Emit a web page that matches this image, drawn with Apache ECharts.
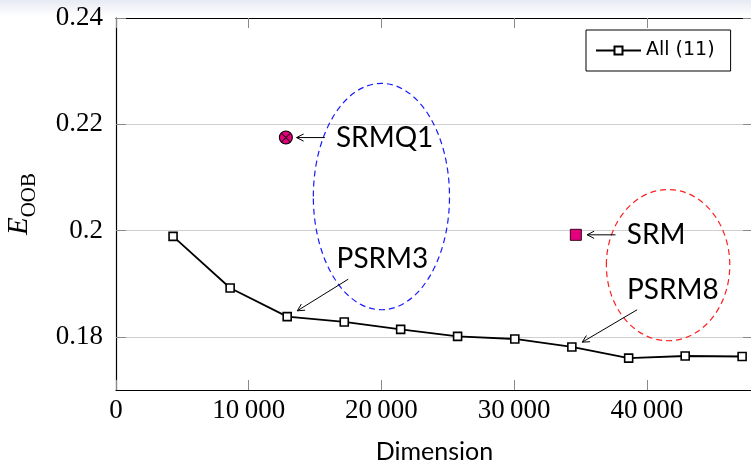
<!DOCTYPE html>
<html><head><meta charset="utf-8">
<script src="https://cdn.jsdelivr.net/npm/echarts@6/dist/echarts.min.js"></script>
<style>html,body{margin:0;padding:0;background:#fff}#c{width:751px;height:460px}</style>
</head><body><div id="c"></div>
<script>
// ---- data ----
const dims = [4300, 8600, 12900, 17200, 21450, 25740, 30050, 34350, 38630, 42890, 47180];
const errAll = [0.1989, 0.1892, 0.1838, 0.1828, 0.1814, 0.1801, 0.1796, 0.1781, 0.1760, 0.1764, 0.1763];
const srmq1Point = [12800, 0.2175];
const srmPoint = [34650, 0.1992];
const xTickValues = [0, 10000, 20000, 30000, 40000];
const yTickValues = [0.18, 0.20, 0.22, 0.24];
const annotationLabels = ['SRMQ1', 'SRM', 'PSRM3', 'PSRM8'];
const labelAnchors = [[16570, 0.2175], [38490, 0.1991], [16620, 0.1946], [38510, 0.1889]];
const arrowFrom = [[15740, 0.2175], [37640, 0.1992], [17500, 0.19085], [39270, 0.1851]];
const arrowTo = [[13610, 0.2175], [35500, 0.1992], [13660, 0.1849], [35130, 0.1790]];
const ellipseCenters = [[20000, 0.2064], [41600, 0.1935]];
const ellipseRadii = [[5130, 0.0213], [4650, 0.01423]];

// ---- chart ----
const SERIF = '"Liberation Serif", "DejaVu Serif", serif';
const SANS = 'Lato, "Open Sans", sans-serif';
const ellipseStroke = ['#1a1aff', '#ff2020'];
const fmtX = v => { const s = String(Math.round(v)); return s.length > 4 ? s.slice(0, s.length - 3) + '\u2009' + s.slice(-3) : s; };
const fmtY = v => String(+(+v).toFixed(2));

const chart = echarts.init(document.getElementById('c'), null, { renderer: 'canvas' });
chart.setOption({
  animation: false,
  backgroundColor: '#fff',
  graphic: [{
    type: 'rect', z: -10, silent: true,
    shape: { x: 0, y: 0, width: 751, height: 16 },
    style: { fill: new echarts.graphic.LinearGradient(0, 0, 0, 1, [
      { offset: 0, color: '#e8eaf4' }, { offset: 1, color: '#ffffff' }]) }
  }],
  grid: { left: 116, top: 18, width: 637, height: 372, containLabel: false, outerBoundsMode: 'none' },
  legend: {
    data: ['All (11)'], left: 586, top: 30,
    padding: [11, 16, 11, 9], borderColor: '#000', borderWidth: 1, borderRadius: 0,
    itemWidth: 45, itemHeight: 10, itemGap: 7,
    textStyle: { fontFamily: '"DejaVu Sans", sans-serif', fontSize: 19, color: '#000' }
  },
  xAxis: [{
    type: 'value', min: 0, max: 48000, position: 'bottom',
    axisLine: { show: true, onZero: false, lineStyle: { color: '#000', width: 1.2 } },
    axisTick: { show: true, inside: true, length: 10, customValues: xTickValues, lineStyle: { color: '#8a8a8a', width: 1 } },
    axisLabel: { show: true, customValues: xTickValues, formatter: fmtX, margin: 7,
      fontFamily: SERIF, fontSize: 27, color: '#000' },
    splitLine: { show: false },
    name: 'Dimension', nameLocation: 'middle', nameGap: 49,
    nameTextStyle: { fontFamily: SANS, fontSize: 25, color: '#000' }
  }, {
    type: 'value', min: 0, max: 48000, position: 'top',
    axisLine: { show: true, onZero: false, lineStyle: { color: '#000', width: 1.2 } },
    axisTick: { show: true, inside: true, length: 10, customValues: xTickValues, lineStyle: { color: '#8a8a8a', width: 1 } },
    axisLabel: { show: false }, splitLine: { show: false }
  }],
  yAxis: [{
    type: 'value', min: 0.17, max: 0.24, position: 'left',
    axisLine: { show: true, onZero: false, lineStyle: { color: '#000', width: 1.2 } },
    axisTick: { show: true, inside: true, length: 10, customValues: yTickValues, lineStyle: { color: '#8a8a8a', width: 1 } },
    axisLabel: { show: true, customValues: yTickValues, formatter: fmtY, margin: 13,
      fontFamily: SERIF, fontSize: 27, color: '#000' },
    splitLine: { show: true, lineStyle: { color: '#cfcfcf', width: 1.2 } },
    name: '{e|E}{s|OOB}', nameLocation: 'middle', nameRotate: 90, nameGap: 76,
    nameTextStyle: {
      rich: {
        e: { fontFamily: SERIF, fontStyle: 'italic', fontSize: 29, color: '#000', verticalAlign: 'bottom', padding: [0, 0, 6, 0] },
        s: { fontFamily: SERIF, fontSize: 21, color: '#000', verticalAlign: 'bottom' }
      }
    }
  }, {
    type: 'value', min: 0.17, max: 0.24, position: 'right',
    axisLine: { show: true, onZero: false, lineStyle: { color: '#000', width: 1.2 } },
    axisTick: { show: true, inside: true, length: 10, customValues: yTickValues, lineStyle: { color: '#8a8a8a', width: 1 } },
    axisLabel: { show: false }, splitLine: { show: false }
  }],
  series: [{
    name: 'All (11)', type: 'line', xAxisIndex: 0, yAxisIndex: 0,
    data: dims.map((d, i) => [d, errAll[i]]),
    symbol: 'rect', symbolSize: 8,
    itemStyle: { color: '#fff', borderColor: '#000', borderWidth: 1.6 },
    lineStyle: { color: '#000', width: 1.8 },
    z: 5
  }, {
    name: 'ellipses', type: 'custom', xAxisIndex: 0, yAxisIndex: 0, silent: true,
    data: ellipseCenters.map((c, i) => [c[0], c[1], ellipseRadii[i][0], ellipseRadii[i][1]]),
    renderItem: (params, api) => {
      const cx = api.value(0), cy = api.value(1), rx = api.value(2), ry = api.value(3);
      const c = api.coord([cx, cy]);
      const ex = api.coord([cx + rx, cy]);
      const ey = api.coord([cx, cy + ry]);
      return { type: 'ellipse',
        shape: { cx: c[0], cy: c[1], rx: Math.abs(ex[0] - c[0]), ry: Math.abs(c[1] - ey[1]) },
        style: { fill: null, stroke: ellipseStroke[params.dataIndex], lineWidth: 1.2, lineDash: [6, 4] } };
    },
    z: 3
  }, {
    name: 'annotations', type: 'custom', xAxisIndex: 0, yAxisIndex: 0, silent: true,
    data: annotationLabels.map((t, i) => [arrowFrom[i][0], arrowFrom[i][1], arrowTo[i][0], arrowTo[i][1], labelAnchors[i][0], labelAnchors[i][1]]),
    renderItem: (params, api) => {
      const p1 = api.coord([api.value(0), api.value(1)]);
      const p2 = api.coord([api.value(2), api.value(3)]);
      const pl = api.coord([api.value(4), api.value(5)]);
      const dx = p2[0] - p1[0], dy = p2[1] - p1[1];
      const len = Math.sqrt(dx * dx + dy * dy) || 1;
      const ux = dx / len, uy = dy / len, nx = -uy, ny = ux;
      const L = 7, W = 3.6;
      return { type: 'group', children: [
        { type: 'line', shape: { x1: p1[0], y1: p1[1], x2: p2[0], y2: p2[1] }, style: { stroke: '#000', lineWidth: 1 } },
        { type: 'polyline', shape: { points: [
            [p2[0] - L * ux + W * nx, p2[1] - L * uy + W * ny], [p2[0], p2[1]],
            [p2[0] - L * ux - W * nx, p2[1] - L * uy - W * ny]] },
          style: { stroke: '#000', lineWidth: 1, fill: null } },
        { type: 'text', x: pl[0], y: pl[1], style: { text: annotationLabels[params.dataIndex],
            font: '28px ' + SANS, fill: '#000', align: 'left', verticalAlign: 'middle' } }
      ] };
    },
    z: 6
  }, {
    name: 'SRMQ1', type: 'scatter', xAxisIndex: 0, yAxisIndex: 0,
    data: [srmq1Point], symbol: 'circle', symbolSize: 13,
    itemStyle: { color: '#e4007c', borderColor: '#000', borderWidth: 1.1, opacity: 1 }, z: 7
  }, {
    name: 'SRMQ1x', type: 'scatter', xAxisIndex: 0, yAxisIndex: 0,
    data: [srmq1Point], symbol: 'path://M0,0L10,10M10,0L0,10', symbolSize: 8,
    itemStyle: { color: 'transparent', borderColor: '#000', borderWidth: 1.1 }, z: 8
  }, {
    name: 'SRM', type: 'scatter', xAxisIndex: 0, yAxisIndex: 0,
    data: [srmPoint], symbol: 'rect', symbolSize: 11,
    itemStyle: { color: '#e4007c', borderColor: '#3a0020', borderWidth: 1, opacity: 1 }, z: 7
  }]
});
</script></body></html>
